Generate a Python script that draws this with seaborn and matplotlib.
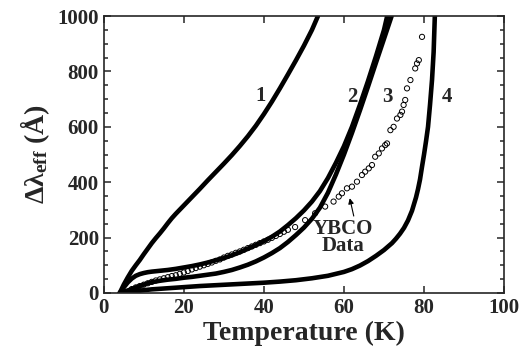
import numpy as np
import pandas as pd
import matplotlib
matplotlib.use('Agg')
import matplotlib.pyplot as plt
import seaborn as sns
from matplotlib.ticker import MultipleLocator

# curves (T in K, delta lambda in Angstrom)
t1 = [4, 5, 6, 7, 8, 9, 10, 11, 12, 13, 14, 15, 16, 17, 18, 19, 20, 22, 24, 26, 28, 30,
      32, 34, 36, 38, 40, 42, 44, 46, 48, 50, 52, 53.5]
v1 = [0, 30, 56, 80, 100, 119, 140, 160, 180, 198, 215, 233, 252, 270, 286, 301, 316, 346,
      376, 407, 437, 467, 498, 531, 566, 604, 646, 691, 739, 789, 840, 893, 950, 1000]

t2 = [4, 5, 6, 7, 8, 9, 10, 11, 12, 14, 16, 18, 20, 22, 24, 26, 28, 30, 32, 34, 36, 38,
      40, 42, 44, 46, 48, 50, 52, 54, 56, 58, 60, 62, 64, 66, 68, 70, 70.8]
v2 = [0, 20, 38, 52, 62, 68, 72, 75, 77, 80, 83, 87, 92, 97, 103, 110, 118, 126, 136, 147,
      160, 173, 187, 203, 222, 245, 270, 298, 330, 368, 415, 470, 530, 600, 680, 765, 855,
      950, 1000]

t3 = [4, 5, 6, 7, 8, 9, 10, 11, 12, 14, 16, 18, 20, 22, 24, 26, 28, 30, 32, 34, 36, 38,
      40, 42, 44, 46, 48, 50, 52, 54, 56, 58, 60, 62, 64, 66, 68, 70, 71.9]
v3 = [0, 4, 9, 14, 20, 25, 30, 35, 39, 44, 48, 51, 55, 58, 62, 66, 70, 76, 83, 92, 102,
      114, 128, 144, 162, 184, 209, 236, 268, 308, 362, 428, 500, 578, 660, 745, 832, 918,
      1000]

t4 = [4, 6, 8, 10, 12, 14, 16, 20, 24, 28, 32, 36, 40, 44, 48, 52, 56, 60, 62, 64, 66, 68,
      70, 72, 73, 74, 75, 76, 77, 78, 78.5, 79, 79.5, 80, 80.5, 81, 81.5, 82, 82.4, 82.7]
v4 = [0, 3, 6, 10, 13, 15, 17, 21, 25, 28, 31, 34, 37, 41, 46, 53, 62, 76, 86, 99, 115,
      134, 155, 180, 196, 214, 235, 262, 297, 345, 375, 410, 456, 500, 548, 600, 680, 770,
      870, 1000]

# YBCO data points
t_ybco = [7, 8, 9, 10, 11, 12, 13, 14, 15, 16, 17, 18, 19, 20, 21, 22, 23, 24, 25, 26,
          27, 28, 29, 30, 31, 32, 33, 34, 35, 36, 37, 38, 39, 40, 41, 42, 43, 44, 45, 46,
          47.8, 50.3, 52.8, 55.3, 57.4, 58.7, 59.5, 60.75, 62, 63.25, 64.5, 65.3, 66.2, 67,
          67.8, 68.7, 69.5, 70.3, 70.75, 71.6, 72.4, 73.25, 74.1, 74.5, 74.9, 75.3, 75.75,
          76.6, 77.8, 78.25, 78.7, 79.5]
v_ybco = [14, 20, 25, 30, 35, 40, 45, 49, 53, 57, 61, 64, 69, 74, 79, 85, 90, 95, 100, 105,
          110, 116, 121, 128, 134, 139, 145, 150, 156, 162, 168, 174, 180, 186, 192, 199, 206, 213, 221, 228,
          238, 263, 288, 312, 330, 348, 360, 378, 384, 402, 426, 438, 450, 462,
          492, 504, 522, 534, 540, 588, 600, 630, 643, 655, 679, 697, 739,
          769, 811, 829, 841, 925]

curve_labels = ['1', '2', '3', '4']
label_t = [39.2, 62, 70.8, 85.7]
label_v = [711, 709, 709, 709]

sns.set_style('ticks')
plt.rcParams['font.family'] = ['Liberation Serif', 'DejaVu Serif']
plt.rcParams['font.weight'] = 'bold'
plt.rcParams['mathtext.fontset'] = 'custom'
plt.rcParams['mathtext.rm'] = 'Liberation Serif:bold'
plt.rcParams['mathtext.it'] = 'Liberation Serif:bold:italic'
plt.rcParams['mathtext.bf'] = 'Liberation Serif:bold'

fig = plt.figure(figsize=(5.24, 3.5), dpi=100)
ax = fig.add_axes([0.198, 0.163, 0.764, 0.791])

for t, v in [(t1, v1), (t2, v2), (t3, v3), (t4, v4)]:
    df = pd.DataFrame({'T': t, 'dl': v})
    sns.lineplot(data=df, x='T', y='dl', sort=False, color='black', lw=3.3,
                 solid_joinstyle='round', ax=ax)

ybco = pd.DataFrame({'T': t_ybco, 'dl': v_ybco})
sns.scatterplot(data=ybco, x='T', y='dl', marker='o', s=14, facecolors='none',
                edgecolor='black', linewidth=0.7, ax=ax)

for lab, tx, vy in zip(curve_labels, label_t, label_v):
    ax.text(tx, vy, lab, fontsize=15, fontweight='bold', ha='center', va='center')

ax.text(59.8, 200, 'YBCO\nData', fontsize=15, fontweight='bold', ha='center', va='center',
        linespacing=0.85)
ax.annotate('', xy=(61.3, 352), xytext=(62.6, 268),
            arrowprops=dict(arrowstyle='-|>', color='black', lw=0.8, mutation_scale=8))

ax.set_xlim(0, 100)
ax.set_ylim(0, 1000)
ax.xaxis.set_major_locator(MultipleLocator(20))
ax.yaxis.set_major_locator(MultipleLocator(200))
ax.yaxis.set_minor_locator(MultipleLocator(50))
ax.tick_params(which='both', direction='in', top=True, right=True, labelsize=15, width=1.1)
ax.tick_params(which='major', length=5)
ax.tick_params(which='minor', length=3)
for s in ax.spines.values():
    s.set_linewidth(1.2)

ax.set_xlabel('Temperature (K)', fontsize=20, fontweight='bold', labelpad=2)
ax.set_ylabel('Δλ$_{\\rm eff}$ (Å)', fontsize=20, fontweight='bold', labelpad=4)

fig.savefig('out.png', dpi=100)
